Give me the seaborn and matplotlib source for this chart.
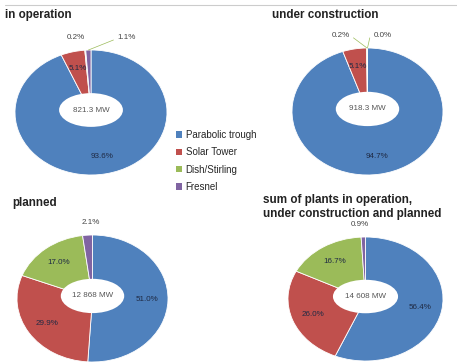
import matplotlib
matplotlib.use("Agg")
import matplotlib.pyplot as plt
from matplotlib.patches import Ellipse, Patch
import numpy as np
import seaborn as sns

sns.set_style("white")
plt.rcParams['font.family'] = ['Liberation Sans', 'DejaVu Sans']

technologies = ["Parabolic trough", "Solar Tower", "Dish/Stirling", "Fresnel"]
colors = ["#4F81BD", "#C0504D", "#9BBB59", "#8064A2"]

titles = ["in operation", "under construction", "planned",
          "sum of plants in operation,\nunder construction and planned"]
totals = ["821.3 MW", "918.3 MW", "12 868 MW", "14 608 MW"]

share_operation = [93.6, 5.1, 0.2, 1.1]
share_construction = [94.7, 5.1, 0.2, 0.0]
share_planned = [51.0, 29.9, 17.0, 2.1]
share_sum = [56.4, 26.0, 16.7, 0.9]
shares = [share_operation, share_construction, share_planned, share_sum]

W, H = 457, 362
fig = plt.figure(figsize=(W / 100, H / 100), dpi=100)

def px_box(x0, y0, x1, y1):
    return [x0 / W, 1 - y1 / H, (x1 - x0) / W, (y1 - y0) / H]

boxes = [px_box(15, 50, 167, 175), px_box(292, 48, 443, 175),
         px_box(17, 235, 168, 362), px_box(288, 237, 443, 361)]
# horizontal offsets (axes units) for outside labels of tiny slices
small_dx = [(-0.12, 0.5), (-0.35, 0.2), (0.04, 0.0), (-0.05, 0.0)]

for box, vals, total, dxs in zip(boxes, shares, totals, small_dx):
    ax = fig.add_axes(box)
    wedges, _ = ax.pie(vals, colors=colors, startangle=90, counterclock=False,
                       wedgeprops=dict(linewidth=0.6, edgecolor="white"))
    ax.set_xlim(-1, 1)
    ax.set_ylim(-1, 1)
    ax.set_aspect("auto")
    ax.axis("off")
    ax.add_patch(Ellipse((0, 0.04), 0.84, 0.54, facecolor="white", edgecolor="none", zorder=5))
    ax.text(0, 0.04, total, ha="center", va="center", fontsize=5.8, color="#555555", zorder=6)
    small_count = 0
    for w, v in zip(wedges, vals):
        ang = np.deg2rad((w.theta1 + w.theta2) / 2)
        if v >= 3:
            r = 0.72
            ax.text(r * np.cos(ang), r * np.sin(ang), f"{v:.1f}%", ha="center", va="center",
                    fontsize=5.8, color="#1F2A44", zorder=6, clip_on=False)
        else:
            x0, y0 = np.cos(ang), np.sin(ang)
            tx, ty = x0 + dxs[small_count], 1.2
            if abs(tx - x0) > 0.15:
                sgn = np.sign(tx - x0)
                ax.plot([x0, tx - sgn * 0.17], [y0, ty - 0.04], color="#9BBB59",
                        lw=0.5, clip_on=False)
            ax.text(tx, ty, f"{v:.1f}%", ha="center", va="center", fontsize=5.8,
                    color="#444444", clip_on=False)
            small_count += 1

title_pos = [(5, 15), (272, 15), (12, 203), (263, 207)]
for (tx, ty), t in zip(title_pos, titles):
    fig.text(tx / W, 1 - ty / H, t, ha="left", va="center", fontsize=8.4,
             fontweight="bold", color="#222222", linespacing=1.25)

fig.add_artist(plt.Line2D([5 / W, 1], [1 - 5 / H, 1 - 5 / H], color="#cccccc", lw=0.8))

handles = [Patch(facecolor=c, edgecolor="none") for c in colors]
fig.legend(handles, technologies, loc="upper left", bbox_to_anchor=(176 / W, 1 - 130 / H),
           frameon=False, fontsize=7, handlelength=0.6, handleheight=0.6,
           handletextpad=0.4, labelspacing=0.75, borderaxespad=0, borderpad=0)

fig.savefig("out.png", dpi=100)
